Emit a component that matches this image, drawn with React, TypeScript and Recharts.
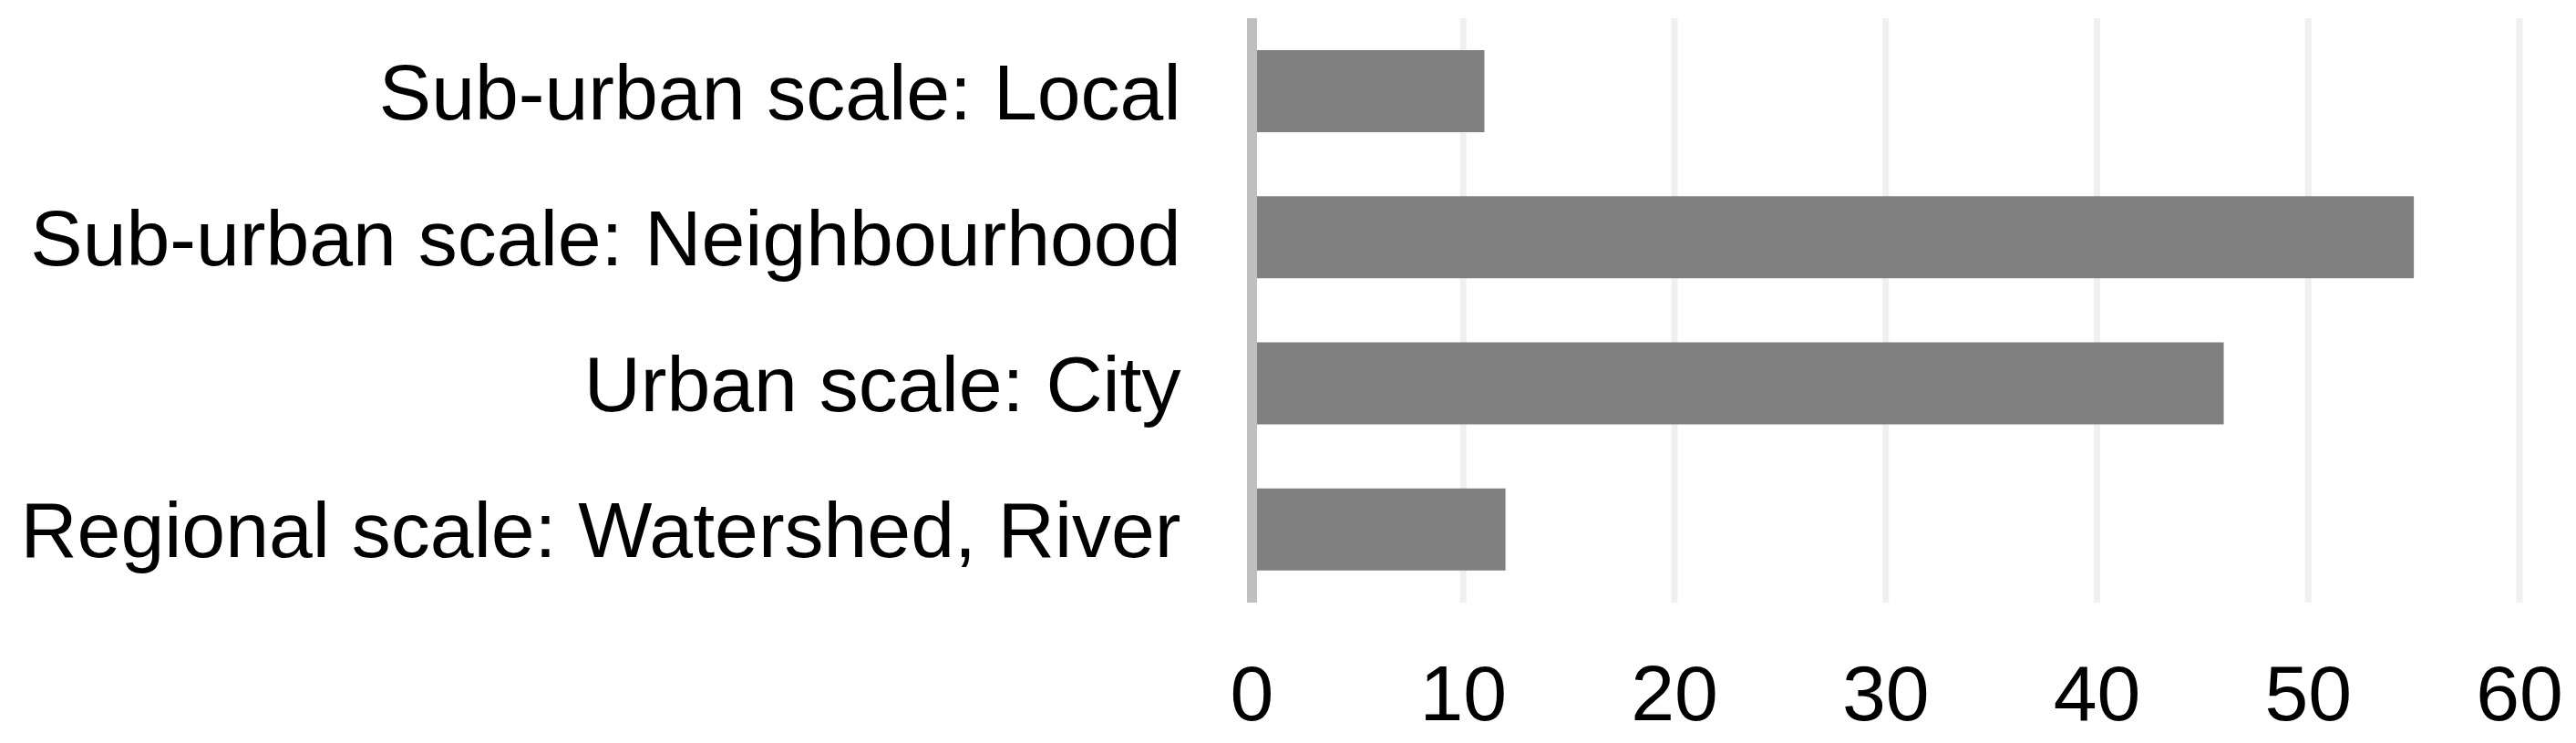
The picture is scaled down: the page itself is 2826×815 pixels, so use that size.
import React from "react";
import { BarChart, Bar, XAxis, YAxis, CartesianGrid } from "recharts";

const categories = [
  "Sub-urban scale: Local",
  "Sub-urban scale: Neighbourhood",
  "Urban scale: City",
  "Regional scale: Watershed, River",
];
const values = [11, 55, 46, 12];
const xTicks = [0, 10, 20, 30, 40, 50, 60];

const data = categories.map((name, i) => ({ name, value: values[i] }));

const FONT = "'Liberation Sans', Arial, sans-serif";

export default function App() {
  return (
    <div style={{ position: "absolute", left: 0, top: 0, width: 2826, height: 815, background: "#fff" }}>
      <BarChart
        width={2826}
        height={815}
        data={data}
        layout="vertical"
        margin={{ top: 20, right: 62, bottom: 0, left: 0 }}
        barCategoryGap={35}
      >
        <CartesianGrid horizontal={false} vertical={true} stroke="#F0F0F0" strokeWidth={7} />
        <XAxis
          type="number"
          domain={[0, 60]}
          ticks={xTicks}
          interval={0}
          axisLine={false}
          tickLine={false}
          tickSize={0}
          tickMargin={68}
          height={154}
          tick={{ fill: "#000", fontSize: 86, fontFamily: FONT }}
        />
        <YAxis
          type="category"
          dataKey="name"
          width={1373.5}
          axisLine={{ stroke: "#BFBFBF", strokeWidth: 11 }}
          tickLine={false}
          tickSize={0}
          tickMargin={78}
          interval={0}
          tick={{ fill: "#000", fontSize: 86, fontFamily: FONT }}
        />
        <Bar dataKey="value" fill="#808080" barSize={90} isAnimationActive={false} />
      </BarChart>
    </div>
  );
}
